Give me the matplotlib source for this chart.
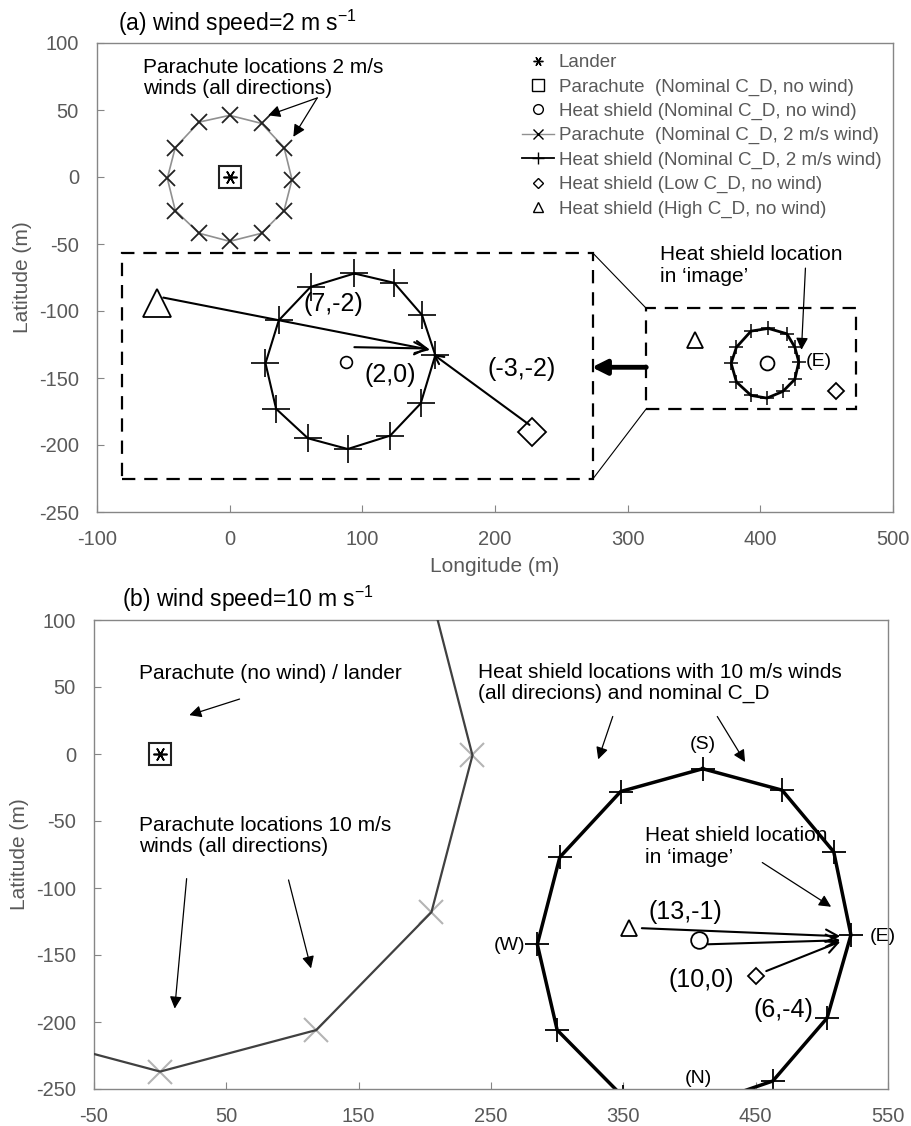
import numpy as np
import matplotlib
matplotlib.use('Agg')
import matplotlib.pyplot as plt
from matplotlib.lines import Line2D
from matplotlib.patches import Rectangle

plt.rcParams['font.family'] = ['Liberation Sans', 'DejaVu Sans']
plt.rcParams['mathtext.fontset'] = 'custom'
plt.rcParams['mathtext.rm'] = 'Liberation Sans'
plt.rcParams['mathtext.default'] = 'regular'
plt.rcParams['axes.unicode_minus'] = False

# ---- panel (a): 2 m/s wind, positions in m ----
para_a_lon = [0, 24, 41, 47, 41, 24, 0, -23, -41, -47, -41, -23]
para_a_lat = [46, 40, 22, -2, -25, -42, -48, -42, -25, -1, 22, 41]
hs_a_lon = [406, 420, 426, 429, 426, 417, 405, 393, 382, 378, 382, 393]
hs_a_lat = [-113, -117, -127, -138, -151, -160, -165, -163, -153, -139, -127, -115]
hs_nominal_a = (405, -139)
hs_high_a = (351, -122)
hs_low_a = (457, -160)

# magnified 'image' of the heat shield box (drawn in the big dashed box)
img_ring_lon = [94, 124, 145, 155, 144, 121, 89, 59, 35, 27, 37, 61]
img_ring_lat = [-72, -79, -103, -133, -169, -193, -203, -195, -173, -139, -107, -82]
img_nominal = (88, -138)
img_high = (-55, -94)
img_low = (228, -190)
img_shift_labels = ['(7,-2)', '(2,0)', '(-3,-2)']

# ---- panel (b): 10 m/s wind ----
para_b_lon = [0, 118, 205, 236, 205, 118, 0, -118, -205, -237, -205, -118]
para_b_lat = [237, 205, 118, -1, -118, -206, -237, -206, -118, 0, 118, 205]
hs_b_lon = [410, 470, 509, 522, 504, 463, 410, 350, 300, 285, 302, 348]
hs_b_lat = [-11, -27, -73, -135, -197, -244, -262, -256, -206, -142, -77, -28]
hs_nominal_b = (407, -139)
hs_high_b = (354, -130)
hs_low_b = (450, -166)
shift_labels_b = ['(13,-1)', '(10,0)', '(6,-4)']

lander = (0, 0)

GRAY_TXT = '#595959'
SPINE = '#868686'
FS_NOTE = 15
FS_SHIFT = 18
FS_DIR = 14

fig = plt.figure(figsize=(9.11, 11.26), dpi=100)
ax1 = fig.add_axes([97/911, 1-512/1126, 796/911, 469/1126])
ax2 = fig.add_axes([94/911, 1-1089/1126, 794/911, 469/1126])

for ax in (ax1, ax2):
    for s in ax.spines.values():
        s.set_color(SPINE)
        s.set_linewidth(1.0)
    ax.tick_params(direction='in', length=5, color=SPINE, labelcolor=GRAY_TXT,
                   labelsize=14.5, pad=13)
    ax.set_ylabel('Latitude (m)', color=GRAY_TXT, fontsize=15, labelpad=5)


def closed(a):
    return np.r_[a, a[:1]]


def arrow(ax, start, end, style='-|>', lw=0.9, ms=18):
    ax.annotate('', xy=end, xytext=start,
                arrowprops=dict(arrowstyle=style, color='k', lw=lw,
                                mutation_scale=ms, shrinkA=0, shrinkB=0))


# ================= panel (a) =================
ax1.set_xlim(-100, 500)
ax1.set_ylim(-250, 100)
ax1.set_xticks(np.arange(-100, 501, 100))
ax1.set_yticks(np.arange(-250, 101, 50))
ax1.set_xlabel('Longitude (m)', color=GRAY_TXT, fontsize=15, labelpad=6)

ax1.plot(closed(para_a_lon), closed(para_a_lat), color='#909090', lw=1.2, zorder=2)
ax1.plot(para_a_lon, para_a_lat, 'x', color='#222222', ms=12, mew=1.3, zorder=3)
ax1.plot(*lander, marker=(6, 2, 90), color='k', ms=10, mew=1.2, ls='none')
ax1.plot(*lander, 's', mfc='none', mec='#222222', ms=16, mew=1.5)

ax1.plot(closed(hs_a_lon), closed(hs_a_lat), color='k', lw=2.0)
ax1.plot(hs_a_lon, hs_a_lat, '+', color='k', ms=10, mew=1.1)
ax1.plot(*hs_nominal_a, 'o', mfc='none', mec='k', ms=10, mew=1.3)
ax1.plot(*hs_high_a, '^', mfc='none', mec='k', ms=12, mew=1.3)
ax1.plot(*hs_low_a, 'D', mfc='none', mec='k', ms=8, mew=1.3)

# dashed boxes and connectors
small_box = (314, -173, 158, 75)
big_box = (-81, -225, 355, 168)
for (x0, y0, w, h) in (small_box, big_box):
    ax1.add_patch(Rectangle((x0, y0), w, h, fill=False, ec='k', lw=1.6,
                            ls=(0, (6, 4))))
ax1.plot([274, 314], [-57, -98], color='k', lw=0.8)
ax1.plot([274, 314], [-225, -173], color='k', lw=0.8)
arrow(ax1, (314, -142), (273, -142), style='-|>', lw=3.5, ms=22)

# magnified image
ax1.plot(closed(img_ring_lon), closed(img_ring_lat), color='k', lw=1.5)
ax1.plot(img_ring_lon, img_ring_lat, '+', color='k', ms=20, mew=1.2)
ax1.plot(*img_nominal, 'o', mfc='none', mec='k', ms=8.5, mew=1.2)
ax1.plot(*img_high, '^', mfc='none', mec='k', ms=20, mew=1.3)
ax1.plot(*img_low, 'D', mfc='none', mec='k', ms=14, mew=1.3)
arrow(ax1, (-50, -90), (151, -129), style='->', lw=1.5, ms=22)
arrow(ax1, (94, -127), (150, -128), style='->', lw=1.5, ms=22)
arrow(ax1, (226, -185), (153, -132), style='->', lw=1.5, ms=16)
ax1.text(78, -95, img_shift_labels[0], fontsize=FS_SHIFT, ha='center', va='center')
ax1.text(121, -148, img_shift_labels[1], fontsize=FS_SHIFT, ha='center', va='center')
ax1.text(220, -143, img_shift_labels[2], fontsize=FS_SHIFT, ha='center', va='center')

# annotations
ax1.text(-65, 74, 'Parachute locations 2 m/s\nwinds (all directions)',
         fontsize=FS_NOTE, va='center', ha='left', linespacing=1.15)
arrow(ax1, (66, 59), (29, 46))
arrow(ax1, (66, 59), (48, 30))
ax1.text(324, -66, 'Heat shield location\nin \u2018image\u2019',
         fontsize=FS_NOTE, va='center', ha='left', linespacing=1.15)
arrow(ax1, (434, -68), (431, -129))
ax1.text(434, -138, '(E)', fontsize=FS_DIR, ha='left', va='center')

# legend
handles = [
    Line2D([], [], marker=(6, 2, 90), color='k', ms=7, mew=1.0, ls='none'),
    Line2D([], [], marker='s', mfc='none', mec='k', ms=8, mew=1.0, ls='none'),
    Line2D([], [], marker='o', mfc='none', mec='k', ms=7, mew=1.0, ls='none'),
    Line2D([], [], marker='x', color='#909090', mec='k', ms=7, mew=1.0, lw=1.0),
    Line2D([], [], marker='+', color='k', ms=9, mew=1.0, lw=1.3),
    Line2D([], [], marker='D', mfc='none', mec='k', ms=5, mew=1.0, ls='none'),
    Line2D([], [], marker='^', mfc='none', mec='k', ms=7, mew=1.0, ls='none'),
]
labels = ['Lander',
          'Parachute  (Nominal C_D, no wind)',
          'Heat shield (Nominal C_D, no wind)',
          'Parachute  (Nominal C_D, 2 m/s wind)',
          'Heat shield (Nominal C_D, 2 m/s wind)',
          'Heat shield (Low C_D, no wind)',
          'Heat shield (High C_D, no wind)']
fig.legend(handles, labels, loc='upper left', bbox_to_anchor=(522/911, 1-54/1126),
           frameon=False, fontsize=13.5, handlelength=1.7, handletextpad=0.25,
           labelspacing=0.38, borderpad=0, borderaxespad=0, labelcolor=GRAY_TXT)

fig.text(118/911, 1-23/1126, '(a) wind speed=2 m s$^{-1}$', fontsize=16.5, va='center')

# ================= panel (b) =================
ax2.set_xlim(-50, 550)
ax2.set_ylim(-250, 100)
ax2.set_xticks(np.arange(-50, 551, 100))
ax2.set_yticks(np.arange(-250, 101, 50))

ax2.plot(para_b_lon, para_b_lat, 'x', color='#b4b4b4', ms=17, mew=1.5, zorder=2)
ax2.plot(closed(para_b_lon), closed(para_b_lat), color='#404040', lw=1.6, zorder=3)
ax2.plot(*lander, marker=(6, 2, 90), color='k', ms=10, mew=1.2, ls='none')
ax2.plot(*lander, 's', mfc='none', mec='#222222', ms=16, mew=1.5)

ax2.plot(closed(hs_b_lon), closed(hs_b_lat), color='k', lw=2.5)
ax2.plot(hs_b_lon, hs_b_lat, '+', color='k', ms=17, mew=1.3)
ax2.plot(*hs_nominal_b, 'o', mfc='none', mec='k', ms=12, mew=1.3)
ax2.plot(*hs_high_b, '^', mfc='none', mec='k', ms=11.5, mew=1.3)
ax2.plot(*hs_low_b, 'D', mfc='none', mec='k', ms=8, mew=1.3)

arrow(ax2, (364, -130), (514, -136), style='->', lw=1.5, ms=22)
arrow(ax2, (414, -142), (514, -139), style='->', lw=1.5, ms=22)
arrow(ax2, (458, -162), (514, -140), style='->', lw=1.5, ms=22)
ax2.text(397, -118, shift_labels_b[0], fontsize=FS_SHIFT, ha='center', va='center')
ax2.text(409, -169, shift_labels_b[1], fontsize=FS_SHIFT, ha='center', va='center')
ax2.text(471, -191, shift_labels_b[2], fontsize=FS_SHIFT, ha='center', va='center')

ax2.text(410, 7, '(S)', fontsize=FS_DIR, ha='center', va='center')
ax2.text(276, -143, '(W)', fontsize=FS_DIR, ha='right', va='center')
ax2.text(546, -136, '(E)', fontsize=FS_DIR, ha='center', va='center')
ax2.text(407, -242, '(N)', fontsize=FS_DIR, ha='center', va='center')

ax2.text(-16, 60, 'Parachute (no wind) / lander', fontsize=FS_NOTE, ha='left', va='center')
arrow(ax2, (60, 41), (22, 29))
ax2.text(-16, -61, 'Parachute locations 10 m/s\nwinds (all directions)',
         fontsize=FS_NOTE, ha='left', va='center', linespacing=1.15)
arrow(ax2, (20, -93), (11, -190))
arrow(ax2, (97, -94), (114, -160))
ax2.text(240, 53, 'Heat shield locations with 10 m/s winds\n(all direcions) and nominal C_D',
         fontsize=FS_NOTE, ha='left', va='center', linespacing=1.15)
arrow(ax2, (342, 28), (331, -4))
arrow(ax2, (421, 28), (442, -6))
ax2.text(366, -69, 'Heat shield location\nin \u2018image\u2019',
         fontsize=FS_NOTE, ha='left', va='center', linespacing=1.15)
arrow(ax2, (455, -81), (507, -114))

fig.text(122/911, 1-599/1126, '(b) wind speed=10 m s$^{-1}$', fontsize=16.5, va='center')

fig.savefig('out.png', dpi=100)
